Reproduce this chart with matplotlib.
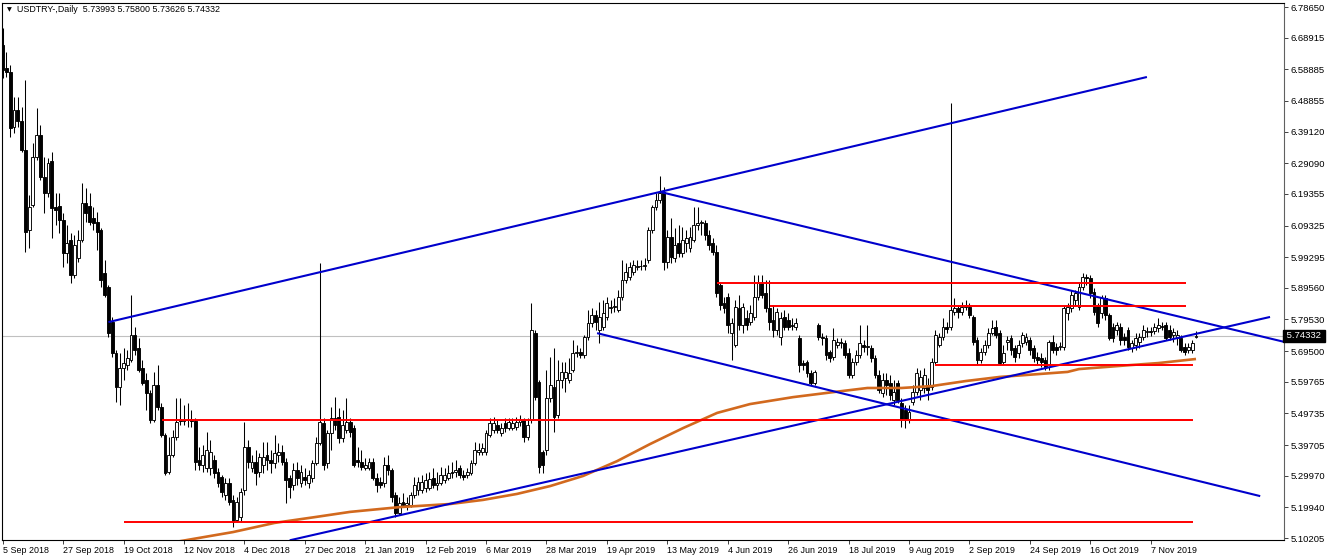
import matplotlib
matplotlib.use("Agg")
import matplotlib.pyplot as plt
import matplotlib.transforms as mtransforms

# USDTRY daily candles, bar 0 = 5 Sep 2018
opens = [6.666, 6.593, 6.580, 6.406, 6.460, 6.425, 6.333, 6.079, 6.158, 6.311,
         6.380, 6.247, 6.197, 6.298, 6.152, 6.155, 6.111, 6.006, 6.047, 5.936,
         5.990, 6.047, 6.165, 6.155, 6.117, 6.105, 6.079, 5.943, 5.898, 5.787,
         5.689, 5.581, 5.641, 5.651, 5.667, 5.746, 5.705, 5.641, 5.603, 5.562,
         5.476, 5.588, 5.518, 5.429, 5.312, 5.365, 5.422, 5.476, 5.473, 5.476,
         5.480, 5.473, 5.350, 5.334, 5.324, 5.324, 5.350, 5.312, 5.296, 5.239,
         5.277, 5.223, 5.159, 5.169, 5.254, 5.391, 5.324, 5.343, 5.312, 5.334,
         5.365, 5.350, 5.340, 5.365, 5.375, 5.343, 5.293, 5.270, 5.318, 5.277,
         5.296, 5.277, 5.293, 5.340, 5.404, 5.467, 5.340, 5.435, 5.483, 5.486,
         5.419, 5.445, 5.470, 5.451, 5.350, 5.343, 5.324, 5.324, 5.343, 5.293,
         5.280, 5.277, 5.334, 5.318, 5.239, 5.181, 5.216, 5.207, 5.207, 5.239,
         5.254, 5.254, 5.261, 5.261, 5.293, 5.270, 5.277, 5.286, 5.293, 5.312,
         5.312, 5.324, 5.302, 5.302, 5.308, 5.340, 5.375, 5.375, 5.375, 5.429,
         5.445, 5.461, 5.435, 5.467, 5.451, 5.451, 5.454, 5.470, 5.476, 5.422,
         5.476, 5.752, 5.597, 5.375, 5.381, 5.546, 5.581, 5.492, 5.603, 5.610,
         5.603, 5.635, 5.689, 5.692, 5.683, 5.740, 5.784, 5.809, 5.762, 5.772,
         5.803, 5.832, 5.835, 5.825, 5.867, 5.921, 5.930, 5.946, 5.962, 5.965,
         5.965, 5.984, 6.079, 6.152, 6.174, 6.200, 5.978, 6.057, 5.990, 6.038,
         6.006, 6.038, 6.022, 6.047, 6.095, 6.101, 6.101, 6.063, 6.038, 6.009,
         5.905, 5.848, 5.867, 5.752, 5.714, 5.832, 5.778, 5.800, 5.787, 5.803,
         5.867, 5.911, 5.879, 5.832, 5.794, 5.762, 5.740, 5.803, 5.794, 5.778,
         5.772, 5.737, 5.657, 5.660, 5.626, 5.594, 5.778, 5.740, 5.737, 5.692,
         5.676, 5.714, 5.724, 5.721, 5.689, 5.619, 5.660, 5.683, 5.714, 5.708,
         5.705, 5.673, 5.619, 5.562, 5.603, 5.594, 5.540, 5.594, 5.530, 5.508,
         5.476, 5.534, 5.565, 5.572, 5.578, 5.588, 5.581, 5.660, 5.714, 5.740,
         5.772, 5.772, 5.819, 5.832, 5.819, 5.835, 5.835, 5.803, 5.730, 5.667,
         5.692, 5.714, 5.752, 5.772, 5.752, 5.660, 5.724, 5.737, 5.705, 5.689,
         5.721, 5.724, 5.730, 5.705, 5.676, 5.673, 5.667, 5.644, 5.724, 5.708,
         5.708, 5.708, 5.816, 5.832, 5.857, 5.835, 5.898, 5.930, 5.927, 5.882,
         5.841, 5.816, 5.863, 5.809, 5.772, 5.762, 5.772, 5.740, 5.762, 5.705,
         5.714, 5.724, 5.740, 5.756, 5.759, 5.759, 5.768, 5.775, 5.778, 5.762,
         5.746, 5.737, 5.737, 5.708, 5.699, 5.699, 5.73993]
highs = [6.720, 6.644, 6.603, 6.501, 6.501, 6.469, 6.555, 6.190, 6.355, 6.466,
         6.412, 6.311, 6.308, 6.327, 6.197, 6.197, 6.133, 6.095, 6.070, 6.063,
         6.079, 6.228, 6.212, 6.197, 6.152, 6.136, 6.086, 5.984, 5.905, 5.803,
         5.699, 5.689, 5.705, 5.699, 5.873, 5.772, 5.737, 5.667, 5.626, 5.572,
         5.629, 5.651, 5.530, 5.435, 5.422, 5.445, 5.546, 5.546, 5.524, 5.530,
         5.508, 5.483, 5.391, 5.397, 5.438, 5.413, 5.365, 5.324, 5.302, 5.293,
         5.293, 5.239, 5.232, 5.261, 5.470, 5.413, 5.365, 5.381, 5.372, 5.407,
         5.407, 5.381, 5.429, 5.404, 5.397, 5.356, 5.302, 5.340, 5.343, 5.334,
         5.324, 5.318, 5.350, 5.422, 5.974, 5.483, 5.445, 5.518, 5.549, 5.515,
         5.508, 5.546, 5.483, 5.461, 5.391, 5.381, 5.356, 5.356, 5.356, 5.308,
         5.296, 5.359, 5.365, 5.324, 5.248, 5.232, 5.245, 5.232, 5.248, 5.296,
         5.296, 5.302, 5.308, 5.312, 5.324, 5.312, 5.327, 5.324, 5.334, 5.343,
         5.350, 5.334, 5.318, 5.324, 5.350, 5.407, 5.404, 5.404, 5.445, 5.483,
         5.486, 5.476, 5.467, 5.483, 5.483, 5.483, 5.486, 5.492, 5.483, 5.483,
         5.848, 5.762, 5.603, 5.381, 5.635, 5.676, 5.705, 5.667, 5.660, 5.660,
         5.673, 5.730, 5.714, 5.705, 5.746, 5.825, 5.832, 5.825, 5.851, 5.857,
         5.867, 5.857, 5.863, 5.889, 5.984, 5.974, 5.978, 5.984, 5.984, 5.984,
         5.990, 6.089, 6.158, 6.197, 6.250, 6.216, 6.079, 6.117, 6.086, 6.095,
         6.089, 6.079, 6.089, 6.152, 6.152, 6.111, 6.111, 6.079, 6.054, 6.032,
         5.911, 5.867, 5.879, 5.800, 5.857, 5.873, 5.848, 5.825, 5.841, 5.936,
         5.936, 5.936, 5.921, 5.921, 5.841, 5.832, 5.819, 5.825, 5.816, 5.800,
         5.800, 5.746, 5.667, 5.667, 5.635, 5.635, 5.784, 5.752, 5.746, 5.699,
         5.768, 5.737, 5.737, 5.730, 5.705, 5.673, 5.699, 5.778, 5.730, 5.778,
         5.714, 5.683, 5.635, 5.626, 5.626, 5.619, 5.603, 5.603, 5.546, 5.524,
         5.524, 5.588, 5.641, 5.635, 5.641, 5.610, 5.673, 5.762, 5.752, 5.800,
         5.787, 6.482, 5.863, 5.841, 5.851, 5.857, 5.848, 5.809, 5.740, 5.705,
         5.730, 5.768, 5.794, 5.794, 5.762, 5.714, 5.743, 5.746, 5.714, 5.730,
         5.756, 5.752, 5.740, 5.714, 5.692, 5.689, 5.676, 5.730, 5.746, 5.721,
         5.724, 5.841, 5.848, 5.889, 5.889, 5.911, 5.943, 5.940, 5.936, 5.895,
         5.848, 5.873, 5.873, 5.816, 5.784, 5.787, 5.784, 5.752, 5.772, 5.730,
         5.752, 5.752, 5.778, 5.772, 5.772, 5.784, 5.800, 5.787, 5.787, 5.778,
         5.768, 5.762, 5.746, 5.721, 5.721, 5.730, 5.75800]
lows = [6.561, 6.565, 6.374, 6.387, 6.406, 6.327, 6.009, 6.022, 6.152, 6.301,
        6.238, 6.133, 6.184, 6.054, 6.095, 6.070, 5.962, 5.974, 5.911, 5.927,
        5.978, 6.041, 6.105, 6.095, 6.079, 6.016, 5.898, 5.867, 5.740, 5.676,
        5.534, 5.524, 5.603, 5.635, 5.660, 5.683, 5.629, 5.588, 5.508, 5.467,
        5.470, 5.508, 5.422, 5.302, 5.305, 5.359, 5.413, 5.461, 5.461, 5.454,
        5.454, 5.318, 5.318, 5.312, 5.312, 5.302, 5.293, 5.264, 5.232, 5.223,
        5.207, 5.137, 5.153, 5.153, 5.239, 5.324, 5.312, 5.270, 5.296, 5.308,
        5.318, 5.308, 5.324, 5.343, 5.334, 5.213, 5.229, 5.254, 5.270, 5.264,
        5.270, 5.261, 5.280, 5.334, 5.397, 5.318, 5.324, 5.381, 5.445, 5.404,
        5.407, 5.435, 5.422, 5.327, 5.327, 5.318, 5.318, 5.318, 5.286, 5.248,
        5.261, 5.264, 5.302, 5.216, 5.169, 5.175, 5.201, 5.191, 5.201, 5.229,
        5.239, 5.245, 5.248, 5.254, 5.261, 5.254, 5.270, 5.277, 5.286, 5.293,
        5.296, 5.293, 5.286, 5.293, 5.302, 5.334, 5.365, 5.365, 5.365, 5.422,
        5.435, 5.435, 5.426, 5.438, 5.445, 5.445, 5.445, 5.457, 5.407, 5.413,
        5.467, 5.540, 5.308, 5.308, 5.365, 5.534, 5.438, 5.483, 5.578, 5.565,
        5.594, 5.629, 5.676, 5.673, 5.673, 5.730, 5.772, 5.762, 5.721, 5.762,
        5.794, 5.816, 5.819, 5.819, 5.857, 5.911, 5.921, 5.936, 5.952, 5.952,
        5.952, 5.974, 6.070, 6.143, 6.165, 5.952, 5.959, 5.974, 5.978, 5.994,
        5.994, 6.009, 6.009, 6.041, 6.079, 6.063, 6.047, 6.016, 6.000, 5.867,
        5.825, 5.816, 5.752, 5.667, 5.708, 5.762, 5.752, 5.762, 5.778, 5.794,
        5.857, 5.863, 5.819, 5.762, 5.740, 5.746, 5.714, 5.762, 5.762, 5.762,
        5.762, 5.629, 5.635, 5.613, 5.588, 5.588, 5.730, 5.714, 5.667, 5.660,
        5.667, 5.705, 5.705, 5.673, 5.610, 5.610, 5.651, 5.673, 5.692, 5.683,
        5.660, 5.610, 5.562, 5.549, 5.556, 5.540, 5.524, 5.530, 5.454, 5.451,
        5.467, 5.524, 5.556, 5.540, 5.562, 5.540, 5.572, 5.651, 5.708, 5.730,
        5.752, 5.762, 5.809, 5.800, 5.809, 5.825, 5.800, 5.714, 5.651, 5.657,
        5.683, 5.705, 5.746, 5.737, 5.651, 5.651, 5.699, 5.683, 5.660, 5.673,
        5.708, 5.714, 5.683, 5.660, 5.651, 5.644, 5.635, 5.635, 5.689, 5.683,
        5.699, 5.699, 5.794, 5.819, 5.841, 5.825, 5.889, 5.905, 5.863, 5.809,
        5.772, 5.800, 5.794, 5.730, 5.724, 5.746, 5.714, 5.714, 5.699, 5.692,
        5.699, 5.705, 5.730, 5.740, 5.743, 5.749, 5.756, 5.762, 5.730, 5.730,
        5.724, 5.714, 5.692, 5.683, 5.689, 5.689, 5.73626]
closes = [6.587, 6.580, 6.403, 6.460, 6.425, 6.333, 6.073, 6.152, 6.311, 6.380,
          6.247, 6.197, 6.292, 6.149, 6.143, 6.111, 6.006, 6.038, 5.936, 6.032,
          6.047, 6.165, 6.133, 6.105, 6.101, 6.073, 5.921, 5.873, 5.752, 5.689,
          5.581, 5.641, 5.657, 5.673, 5.746, 5.699, 5.635, 5.594, 5.562, 5.476,
          5.588, 5.518, 5.429, 5.308, 5.365, 5.422, 5.470, 5.473, 5.476, 5.480,
          5.473, 5.343, 5.334, 5.365, 5.381, 5.375, 5.308, 5.277, 5.248, 5.277,
          5.216, 5.153, 5.216, 5.248, 5.391, 5.343, 5.343, 5.308, 5.359, 5.359,
          5.350, 5.340, 5.372, 5.375, 5.343, 5.286, 5.264, 5.318, 5.293, 5.312,
          5.286, 5.302, 5.340, 5.404, 5.470, 5.334, 5.435, 5.483, 5.461, 5.419,
          5.461, 5.470, 5.438, 5.334, 5.343, 5.327, 5.334, 5.343, 5.293, 5.270,
          5.270, 5.334, 5.318, 5.232, 5.181, 5.213, 5.207, 5.213, 5.239, 5.270,
          5.280, 5.280, 5.286, 5.289, 5.270, 5.277, 5.302, 5.302, 5.308, 5.308,
          5.318, 5.302, 5.296, 5.312, 5.340, 5.381, 5.381, 5.388, 5.435, 5.467,
          5.467, 5.445, 5.451, 5.451, 5.470, 5.467, 5.470, 5.476, 5.422, 5.461,
          5.762, 5.549, 5.327, 5.334, 5.546, 5.588, 5.486, 5.603, 5.629, 5.629,
          5.626, 5.689, 5.692, 5.683, 5.740, 5.784, 5.809, 5.787, 5.803, 5.816,
          5.848, 5.835, 5.838, 5.867, 5.921, 5.946, 5.962, 5.968, 5.965, 5.965,
          5.968, 6.079, 6.152, 6.174, 6.197, 5.978, 6.057, 5.994, 6.032, 6.006,
          6.047, 6.054, 6.057, 6.095, 6.101, 6.105, 6.063, 6.032, 6.009, 5.879,
          5.841, 5.832, 5.778, 5.784, 5.835, 5.778, 5.835, 5.778, 5.816, 5.867,
          5.911, 5.873, 5.832, 5.787, 5.762, 5.819, 5.800, 5.772, 5.772, 5.775,
          5.784, 5.651, 5.651, 5.626, 5.594, 5.629, 5.740, 5.737, 5.683, 5.673,
          5.730, 5.724, 5.721, 5.683, 5.619, 5.660, 5.683, 5.721, 5.708, 5.711,
          5.673, 5.619, 5.572, 5.603, 5.588, 5.556, 5.565, 5.540, 5.476, 5.476,
          5.502, 5.565, 5.626, 5.613, 5.619, 5.572, 5.660, 5.746, 5.740, 5.772,
          5.765, 5.825, 5.832, 5.819, 5.835, 5.841, 5.809, 5.724, 5.667, 5.692,
          5.714, 5.752, 5.768, 5.746, 5.657, 5.689, 5.730, 5.699, 5.676, 5.714,
          5.746, 5.740, 5.699, 5.673, 5.667, 5.660, 5.641, 5.724, 5.699, 5.699,
          5.711, 5.832, 5.835, 5.873, 5.879, 5.898, 5.930, 5.927, 5.879, 5.819,
          5.784, 5.863, 5.809, 5.737, 5.737, 5.778, 5.730, 5.730, 5.708, 5.721,
          5.737, 5.740, 5.762, 5.759, 5.756, 5.772, 5.778, 5.772, 5.737, 5.740,
          5.756, 5.746, 5.699, 5.692, 5.708, 5.721, 5.74332]

date_labels = ["5 Sep 2018", "27 Sep 2018", "19 Oct 2018", "12 Nov 2018", "4 Dec 2018",
               "27 Dec 2018", "21 Jan 2019", "12 Feb 2019", "6 Mar 2019", "28 Mar 2019",
               "19 Apr 2019", "13 May 2019", "4 Jun 2019", "26 Jun 2019", "18 Jul 2019",
               "9 Aug 2019", "2 Sep 2019", "24 Sep 2019", "16 Oct 2019", "7 Nov 2019"]
price_ticks = [6.78650, 6.68915, 6.58885, 6.48855, 6.39120, 6.29090, 6.19355, 6.09325,
               5.99295, 5.89560, 5.79530, 5.69500, 5.59765, 5.49735, 5.39705, 5.29970,
               5.19940, 5.10205]

# 200-day moving average, read at a few bars
ma_bars = [46, 61, 72, 83, 92, 105, 118.5, 127.2, 136.2, 145.0, 153.7, 162.7, 171.4,
           180.2, 189.2, 197.9, 209.3, 220, 229, 238, 246, 255, 264, 282, 285, 299,
           306, 316]
ma_values = [5.090, 5.121, 5.150, 5.169, 5.185, 5.200, 5.210, 5.223, 5.242, 5.267,
             5.299, 5.346, 5.400, 5.451, 5.499, 5.527, 5.549, 5.565, 5.578, 5.578,
             5.584, 5.600, 5.613, 5.629, 5.638, 5.651, 5.657, 5.670]

# trend lines: (bar, price) -> (bar, price)
blue_x0 = [28.0, 174.1, 157.4, 76.0]
blue_y0 = [5.787, 6.200, 5.752, 5.0948]
blue_x1 = [303.0, 345.0, 333.0, 335.6]
blue_y1 = [6.5645, 5.708, 5.235, 5.8033]

# horizontal levels
red_start = [189.1, 203.2, 247.0, 42.1, 178.6, 32.1]
red_end = [313.3, 313.3, 315.2, 315.2, 315.2, 315.2]
red_price = [5.911, 5.839, 5.651, 5.475, 5.478, 5.153]

last_price = 5.74332
title = "USDTRY-,Daily  5.73993 5.75800 5.73626 5.74332"

W, H = 1332, 559
fig = plt.figure(figsize=(W / 100, H / 100), dpi=100)
ax = fig.add_axes([1.7 / W, (H - 539.5) / H, (1284 - 1.7) / W, (539.5 - 2.5) / H])
ax.set_xlim(-0.26, 339.3)
ax.set_ylim(5.0974, 6.8008)

ax.axhline(last_price, color="#C0C0C0", lw=0.8, zorder=1)

n = len(closes)
for i in range(n):
    o, h, l, c = opens[i], highs[i], lows[i], closes[i]
    ax.vlines(i, l, h, color="black", lw=0.75, zorder=2)
    bull = c >= o
    ax.bar(i, max(abs(c - o), 0.0008), bottom=min(o, c), width=0.75,
           color="white" if bull else "black", edgecolor="black", lw=0.65, zorder=3)

ax.plot(ma_bars, ma_values, color="#D2691E", lw=1.9, zorder=4,
        solid_capstyle="butt", solid_joinstyle="round")

for x0, y0, x1, y1 in zip(blue_x0, blue_y0, blue_x1, blue_y1):
    ax.plot([x0, x1], [y0, y1], color="#0000CC", lw=1.5, zorder=5, solid_capstyle="butt")

for s, e, p in zip(red_start, red_end, red_price):
    ax.plot([s, e], [p, p], color="#FF0000", lw=1.4, zorder=5, solid_capstyle="butt")

font = "Liberation Sans"
ax.set_xticks(range(0, 16 * len(date_labels), 16))
ax.set_xticklabels(date_labels, ha="left", fontsize=6.4, family=font)
ax.yaxis.tick_right()
ax.set_yticks(price_ticks)
ax.set_yticklabels([f"{v:.5f}" for v in price_ticks], fontsize=6.8, family=font)
ax.tick_params(axis="both", direction="out", length=3, width=0.7, color="#404040", pad=1.5)

for sp in ax.spines.values():
    sp.set_linewidth(0.8)
    sp.set_color("black")
ax.spines["right"].set_color("#606060")

# current price tag
tr = mtransforms.blended_transform_factory(ax.transAxes, ax.transData)
ax.text(1.0, last_price, " 5.74332 ", transform=tr, ha="left", va="center",
        fontsize=6.8, family=font, color="white",
        bbox=dict(boxstyle="square,pad=0.15", fc="black", ec="black"), zorder=10, clip_on=False)

fig.text(7 / W, 1 - 10 / H, "\u25bc", fontsize=4.5, family="DejaVu Sans", va="center", ha="left")
fig.text(17 / W, 1 - 10 / H, title, fontsize=6.4, family=font, va="center", ha="left")

fig.savefig("out.png", dpi=100)
